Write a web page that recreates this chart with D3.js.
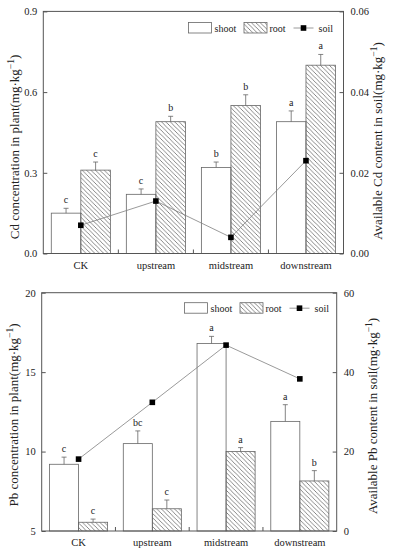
<!DOCTYPE html>
<html>
<head>
<meta charset="utf-8">
<script src="https://cdn.jsdelivr.net/npm/d3@7"></script>
<style>
  body { margin: 0; background: #fff; }
  svg { display: block; }
  svg text { font-family: "Liberation Serif", "DejaVu Serif", serif !important; fill: #222; }
</style>
</head>
<body>
<script>
// categories + values
const categories = ["CK", "upstream", "midstream", "downstream"]

// Cd panel
const cdShoot = [0.15, 0.22, 0.32, 0.49]
const cdShootErr = [0.018, 0.02, 0.02, 0.04]
const cdRoot = [0.31, 0.49, 0.55, 0.70]
const cdRootErr = [0.03, 0.02, 0.04, 0.04]
const cdSoil = [0.007, 0.013, 0.004, 0.023]
const cdShootSig = ["c", "c", "b", "a"]
const cdRootSig = ["c", "b", "b", "a"]
const cdLeftTicks = [0, 0.3, 0.6, 0.9]
const cdRightTicks = [0, 0.02, 0.04, 0.06]

// Pb panel
const pbShoot = [9.2, 10.5, 16.8, 11.9]
const pbShootErr = [0.45, 0.8, 0.45, 1.05]
const pbRoot = [5.55, 6.4, 10.0, 8.15]
const pbRootErr = [0.2, 0.55, 0.25, 0.65]
const pbSoil = [18.1, 32.4, 46.8, 38.3]
const pbShootSig = ["c", "bc", "a", "a"]
const pbRootSig = ["c", "c", "a", "b"]
const pbLeftTicks = [5, 10, 15, 20]
const pbRightTicks = [0, 20, 40, 60]

const W = 393, H = 550

const svg = d3.select("body").append("svg")
    .attr("width", W)
    .attr("height", H)
    .attr("font-family", "Liberation Serif, serif")

// hatch for the root bars
const defs = svg.append("defs")
defs.append("pattern")
    .attr("id", "hatch")
    .attr("patternUnits", "userSpaceOnUse")
    .attr("width", 4.4)
    .attr("height", 4.4)
    .append("path")
    .attr("d", "M-1,-1 L5.4,5.4 M-1,3.4 L1,5.4 M3.4,-1 L5.4,1")
    .attr("stroke", "#555")
    .attr("stroke-width", 0.7)

function drawPanel(p) {
    const g = svg.append("g")

    const x0 = d3.scaleBand().domain(categories).range([p.left, p.right])
    const x1 = d3.scaleBand().domain(["shoot", "root"])
        .range([0, x0.bandwidth()])
        .paddingOuter(0.27)
    const yL = d3.scaleLinear().domain(p.leftDomain).range([p.bottom, p.top])
    const yR = d3.scaleLinear().domain(p.rightDomain).range([p.bottom, p.top])

    const rows = categories.map((c, i) => ({
        cat: c,
        shoot: p.shoot[i], shootErr: p.shootErr[i], shootSig: p.shootSig[i],
        root: p.root[i], rootErr: p.rootErr[i], rootSig: p.rootSig[i],
        soil: p.soil[i]
    }))

    // bars
    const series = [
        { key: "shoot", fill: "#fff" },
        { key: "root", fill: "url(#hatch)" }
    ]
    series.forEach(s => {
        g.selectAll(null).data(rows).enter().append("rect")
            .attr("x", d => x0(d.cat) + x1(s.key))
            .attr("y", d => yL(d[s.key]))
            .attr("width", x1.bandwidth())
            .attr("height", d => p.bottom - yL(d[s.key]))
            .attr("fill", s.fill)
            .attr("stroke", "#666")
            .attr("stroke-width", 0.8)

        // error bars (upper half only)
        const cx = d => x0(d.cat) + x1(s.key) + x1.bandwidth() / 2
        g.selectAll(null).data(rows).enter().append("path")
            .attr("d", d => {
                const y0 = yL(d[s.key]), y1 = yL(d[s.key] + d[s.key + "Err"])
                return `M${cx(d)},${y0} V${y1} M${cx(d) - 2.5},${y1} H${cx(d) + 2.5}`
            })
            .attr("stroke", "#666")
            .attr("stroke-width", 0.8)
            .attr("fill", "none")

        g.selectAll(null).data(rows).enter().append("text")
            .attr("x", cx)
            .attr("y", d => yL(d[s.key] + d[s.key + "Err"]) - 5)
            .attr("text-anchor", "middle")
            .style("font-size", "10px")
            .text(d => d[s.key + "Sig"])
    })

    // soil line on right axis
    const cxCat = d => x0(d.cat) + x0.bandwidth() / 2
    g.append("path")
        .datum(rows)
        .attr("d", d3.line().x(cxCat).y(d => yR(d.soil)))
        .attr("fill", "none")
        .attr("stroke", "#808080")
        .attr("stroke-width", 0.8)
    g.selectAll(null).data(rows).enter().append("rect")
        .attr("x", d => cxCat(d) - 2.8)
        .attr("y", d => yR(d.soil) - 2.8)
        .attr("width", 5.6)
        .attr("height", 5.6)
        .attr("fill", "#000")

    // frame
    g.append("rect")
        .attr("x", p.left).attr("y", p.top)
        .attr("width", p.right - p.left).attr("height", p.bottom - p.top)
        .attr("fill", "none")
        .attr("stroke", "#555")
        .attr("stroke-width", 1)

    // axes (inward ticks)
    const left = g.append("g")
        .attr("transform", `translate(${p.left},0)`)
        .call(d3.axisLeft(yL).tickValues(p.leftTicks).tickFormat(p.leftFmt).tickSizeInner(-4).tickSizeOuter(0).tickPadding(6))
    const right = g.append("g")
        .attr("transform", `translate(${p.right},0)`)
        .call(d3.axisRight(yR).tickValues(p.rightTicks).tickFormat(p.rightFmt).tickSizeInner(-4).tickSizeOuter(0).tickPadding(7))
    const bottom = g.append("g")
        .attr("transform", `translate(0,${p.bottom})`)
        .call(d3.axisBottom(x0).tickSize(0).tickPadding(8))
    ;[left, right, bottom].forEach(a => {
        a.attr("font-family", null).attr("font-size", null)
        a.select(".domain").remove()
        a.selectAll("line").attr("stroke", "#555")
        a.selectAll("text").style("font-size", "10.5px").attr("fill", "#222")
    })

    // small inward ticks between categories
    g.selectAll(null).data(categories.slice(1)).enter().append("line")
        .attr("x1", d => x0(d)).attr("x2", d => x0(d))
        .attr("y1", p.bottom).attr("y2", p.bottom - 4)
        .attr("stroke", "#555")

    // axis titles
    const title = (x, y, label) => {
        const t = g.append("text")
            .attr("transform", `translate(${x},${y}) rotate(-90)`)
            .attr("text-anchor", "middle")
            .style("font-size", "13px")
        t.append("tspan").text(label + "(mg·kg")
        t.append("tspan").attr("baseline-shift", "super").style("font-size", "9.5px").text("−1")
        t.append("tspan").text(")")
    }
    title(p.leftTitleX, p.leftTitleY, p.leftTitle)
    title(p.rightTitleX, p.rightTitleY, p.rightTitle)

    // legend
    const lg = p.legend
    g.append("rect").attr("x", lg.x).attr("y", lg.y).attr("width", 23).attr("height", 10.5)
        .attr("fill", "#fff").attr("stroke", "#666").attr("stroke-width", 0.8)
    g.append("text").attr("x", lg.x + 26).attr("y", lg.y + 9).style("font-size", "10px").text("shoot")
    g.append("rect").attr("x", lg.x + 55.5).attr("y", lg.y).attr("width", 23).attr("height", 10.5)
        .attr("fill", "url(#hatch)").attr("stroke", "#666").attr("stroke-width", 0.8)
    g.append("text").attr("x", lg.x + 81).attr("y", lg.y + 9).style("font-size", "10px").text("root")
    g.append("line").attr("x1", lg.x + 105).attr("x2", lg.x + 125)
        .attr("y1", lg.y + 5.5).attr("y2", lg.y + 5.5)
        .attr("stroke", "#808080").attr("stroke-width", 0.8)
    g.append("rect").attr("x", lg.x + 112.2).attr("y", lg.y + 2.7).attr("width", 5.6).attr("height", 5.6).attr("fill", "#000")
    g.append("text").attr("x", lg.x + 130).attr("y", lg.y + 9).style("font-size", "10px").text("soil")
}

drawPanel({
    left: 43.3, right: 343.5, top: 11.4, bottom: 253.5,
    leftDomain: [0, 0.9], rightDomain: [0, 0.06],
    leftTicks: cdLeftTicks, rightTicks: cdRightTicks,
    leftFmt: d3.format(".1f"), rightFmt: d3.format(".2f"),
    shoot: cdShoot, shootErr: cdShootErr, shootSig: cdShootSig,
    root: cdRoot, rootErr: cdRootErr, rootSig: cdRootSig,
    soil: cdSoil,
    leftTitle: "Cd concentration in plant", leftTitleX: 19, leftTitleY: 147,
    rightTitle: "Available Cd content in soil", rightTitleX: 382, rightTitleY: 141,
    legend: { x: 188.5, y: 22.5 }
})

drawPanel({
    left: 41.7, right: 336.7, top: 292.7, bottom: 531,
    leftDomain: [5, 20], rightDomain: [0, 60],
    leftTicks: pbLeftTicks, rightTicks: pbRightTicks,
    leftFmt: d3.format("d"), rightFmt: d3.format("d"),
    shoot: pbShoot, shootErr: pbShootErr, shootSig: pbShootSig,
    root: pbRoot, rootErr: pbRootErr, rootSig: pbRootSig,
    soil: pbSoil,
    leftTitle: "Pb concentration in plant", leftTitleX: 18, leftTitleY: 415,
    rightTitle: "Available Pb content in soil", rightTitleX: 377, rightTitleY: 416,
    legend: { x: 184.5, y: 302.7 }
})
</script>
</body>
</html>
